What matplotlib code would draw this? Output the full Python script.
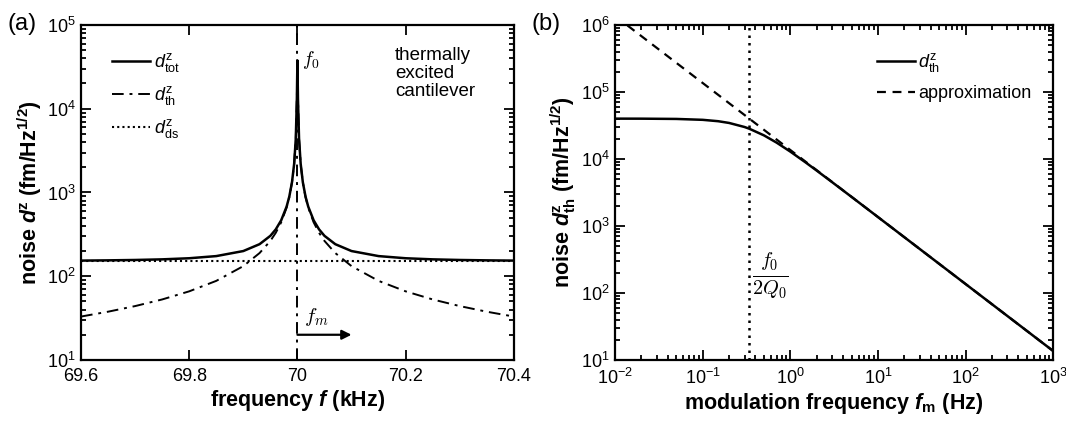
import numpy as np
import matplotlib
matplotlib.use("Agg")
import matplotlib.pyplot as plt
from matplotlib.ticker import FixedLocator, FixedFormatter, LogLocator, NullFormatter, NullLocator

plt.rcParams['font.family'] = ['Liberation Sans', 'DejaVu Sans']
plt.rcParams['mathtext.fontset'] = 'custom'
plt.rcParams['mathtext.rm'] = 'Liberation Sans'
plt.rcParams['mathtext.it'] = 'Liberation Sans:italic'
plt.rcParams['mathtext.bf'] = 'Liberation Sans:bold'
plt.rcParams['mathtext.bfit'] = 'Liberation Sans:italic:bold'
plt.rcParams['axes.linewidth'] = 1.6

# ---------------- panel (a) data ----------------
f0_khz = 70.0
freq_a = [69.6, 69.65, 69.7, 69.75, 69.8, 69.85, 69.9, 69.93, 69.95, 69.96, 69.97,
          69.98, 69.985, 69.99, 69.994, 69.997, 69.999, 70.0,
          70.001, 70.003, 70.006, 70.01, 70.015, 70.02, 70.03, 70.04, 70.05,
          70.07, 70.1, 70.15, 70.2, 70.25, 70.3, 70.35, 70.4]
d_th_a = [33, 37.7, 44, 52.8, 66, 88, 132, 189, 264, 330, 440,
          660, 880, 1320, 2200, 4400, 13200, 37700,
          13200, 4400, 2200, 1320, 880, 660, 440, 330, 264,
          189, 132, 88, 66, 52.8, 44, 37.7, 33]
d_tot_a = [153.6, 154.7, 156.3, 159.0, 163.9, 173.9, 199.8, 241.3, 303.6, 362.5, 464.9,
           676.8, 892.7, 1328.5, 2205, 4403, 13201, 37700,
           13201, 4403, 2205, 1328.5, 892.7, 676.8, 464.9, 362.5, 303.6,
           241.3, 199.8, 173.9, 163.9, 159.0, 156.3, 154.7, 153.6]
d_ds_level = 150
xticks_a = [69.6, 69.8, 70.0, 70.2, 70.4]
xticklabels_a = ['69.6', '69.8', '70', '70.2', '70.4']
fm_arrow_end = 70.1

# ---------------- panel (b) data ----------------
fm_b = [0.01, 0.02, 0.05, 0.1, 0.15, 0.2, 0.3, 0.34, 0.5, 0.7, 1, 1.5, 2, 3, 5, 10, 100, 1000]
d_th_b = [39983, 39931, 39573, 38373, 36597, 34478, 29994, 28284, 22492, 17476,
          12876, 8842, 6704, 4504, 2714, 1359, 136.0, 13.6]
fm_approx = [0.01, 1000]
d_approx = [1.36e6, 13.6]
f_cut = 0.34

fig = plt.figure(figsize=(10.66, 4.23), dpi=100)
axA = fig.add_axes([0.076, 0.149, 0.406, 0.792])
axB = fig.add_axes([0.577, 0.149, 0.411, 0.792])

tick_fs = 13
lab_fs = 15.5

# ---- panel a ----
axA.set_yscale('log')
axA.plot([freq_a[0], freq_a[-1]], [d_ds_level, d_ds_level], color='k', lw=1.5,
         ls=(0, (1, 1.5)), label=r'$d^{\rm z}_{\rm ds}$', zorder=2)
axA.plot(freq_a, d_th_a, color='k', lw=1.4, ls=(0, (6, 3, 1.5, 3)),
         label=r'$d^{\rm z}_{\rm th}$', zorder=3)
axA.axvline(f0_khz, color='k', lw=1.4, ls=(0, (6, 3, 1.5, 3)), zorder=3)
axA.plot(freq_a, d_tot_a, color='k', lw=1.8, label=r'$d^{\rm z}_{\rm tot}$', zorder=4)
axA.set_xlim(69.6, 70.4)
axA.set_ylim(10, 1e5)
axA.xaxis.set_major_locator(FixedLocator(xticks_a))
axA.xaxis.set_major_formatter(FixedFormatter(xticklabels_a))
axA.xaxis.set_minor_locator(NullLocator())
axA.yaxis.set_major_locator(LogLocator(base=10, numticks=10))
axA.yaxis.set_minor_locator(LogLocator(base=10, subs=np.arange(2, 10), numticks=10))
axA.yaxis.set_minor_formatter(NullFormatter())

h, l = axA.get_legend_handles_labels()
order = [2, 1, 0]
axA.legend([h[i] for i in order], [l[i] for i in order], loc='upper left',
           bbox_to_anchor=(0.035, 0.97), frameon=False, fontsize=13,
           handlelength=2.1, handletextpad=0.2, labelspacing=0.55)
axA.text(70.18, 5.5e4, 'thermally\nexcited\ncantilever', fontsize=13.5,
         ha='left', va='top', linespacing=1.1)
axA.text(70.008, 3.8e4, r'$f_0$', fontsize=14, ha='left', va='center',
         math_fontfamily='cm')
axA.annotate('', xy=(fm_arrow_end, 20), xytext=(f0_khz, 20),
             arrowprops=dict(arrowstyle='-|>', lw=1.6, color='k',
                             mutation_scale=14, shrinkA=0, shrinkB=0))
axA.text(70.012, 24, r'$f_m$', fontsize=15, ha='left', va='bottom',
         math_fontfamily='cm')
axA.set_xlabel(r'frequency $\mathbfit{f}$ (kHz)', fontsize=lab_fs, fontweight='bold', labelpad=2)
axA.set_ylabel(r'noise $\mathbfit{d}^{\mathbf{z}}$ (fm/Hz$^{\mathbf{1/2}}$)',
               fontsize=lab_fs, fontweight='bold', labelpad=2)

# ---- panel b ----
axB.set_xscale('log')
axB.set_yscale('log')
axB.axvline(f_cut, color='k', lw=1.8, ls=(0, (1, 2)), zorder=2)
axB.plot(fm_b, d_th_b, color='k', lw=1.8, label=r'$d^{\rm z}_{\rm th}$', zorder=4)
axB.plot(fm_approx, d_approx, color='k', lw=1.6, ls=(0, (4, 3)),
         label='approximation', zorder=3)
axB.set_xlim(1e-2, 1e3)
axB.set_ylim(10, 1e6)
for axis in (axB.xaxis, axB.yaxis):
    axis.set_major_locator(LogLocator(base=10, numticks=12))
    axis.set_minor_locator(LogLocator(base=10, subs=np.arange(2, 10), numticks=12))
    axis.set_minor_formatter(NullFormatter())
axB.legend(loc='upper left', bbox_to_anchor=(0.56, 0.97), frameon=False, fontsize=13,
           handlelength=2.1, handletextpad=0.2, labelspacing=0.6)
axB.text(0.37, 180, r'$\frac{f_0}{2Q_0}$', fontsize=21, ha='left', va='center',
         math_fontfamily='cm')
axB.set_xlabel(r'modulation frequency $\mathbfit{f}_{\mathbf{m}}$ (Hz)', fontsize=lab_fs,
               fontweight='bold', labelpad=2)
axB.set_ylabel(r'noise $\mathbfit{d}^{\mathbf{z}}_{\mathbf{th}}$ (fm/Hz$^{\mathbf{1/2}}$)',
               fontsize=lab_fs, fontweight='bold', labelpad=2)

for ax in (axA, axB):
    ax.tick_params(which='both', direction='in', top=True, right=True, labelsize=tick_fs,
                   width=1.3)
    ax.tick_params(which='major', length=7)
    ax.tick_params(which='minor', length=3.5)
    ax.tick_params(axis='x', which='both', pad=6)
    ax.tick_params(axis='y', which='both', pad=4)

fig.text(0.0075, 0.943, '(a)', fontsize=17, ha='left', va='center')
fig.text(0.499, 0.943, '(b)', fontsize=17, ha='left', va='center')

fig.savefig('out.png', dpi=100)
